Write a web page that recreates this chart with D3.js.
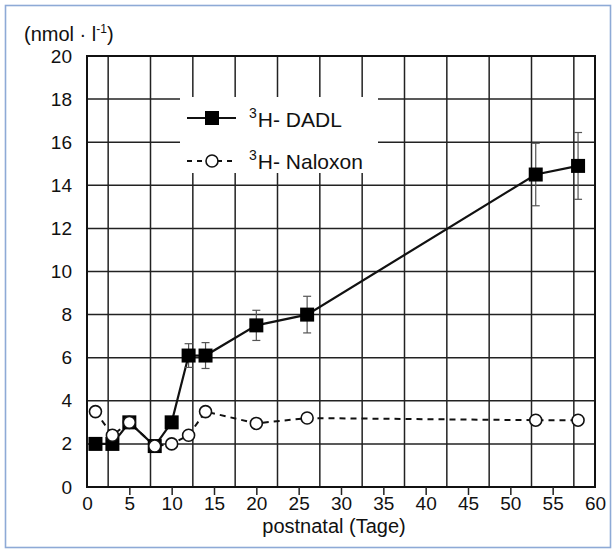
<!DOCTYPE html>
<html>
<head>
    <meta charset="utf-8">
    <title>Opioid binding postnatal</title>
    <script type="text/javascript" src="https://cdn.jsdelivr.net/npm/d3@7/dist/d3.min.js"></script>
    <style>
        body { margin: 0; background: #fff; }
        svg text { font-family: "Liberation Sans", Arial, sans-serif; fill: #111; }
        .grid line { stroke: #222; stroke-width: 1.5; }
    </style>
</head>
<body>
<script type="text/javascript">

    // values
    var dadlDays   = [1, 3, 5, 8, 10, 12, 14, 20, 26, 53, 58];
    var dadlValues = [2, 2, 3, 1.9, 3, 6.1, 6.1, 7.5, 8, 14.5, 14.9];
    var dadlErr    = [0, 0, 0, 0, 0, 0.55, 0.6, 0.7, 0.85, 1.45, 1.55];

    var naloxonDays   = [1, 3, 5, 8, 10, 12, 14, 20, 26, 53, 58];
    var naloxonValues = [3.5, 2.4, 3, 1.9, 2, 2.4, 3.5, 2.95, 3.2, 3.1, 3.1];

    var xTickValues = [0, 5, 10, 15, 20, 25, 30, 35, 40, 45, 50, 55, 60];
    var yTickValues = [0, 2, 4, 6, 8, 10, 12, 14, 16, 18, 20];
    var xGridValues = [2.5, 7.5, 12.5, 17.5, 22.5, 27.5, 32.5, 37.5, 42.5, 47.5, 52.5, 57.5];
    var yGridValues = [2, 4, 6, 8, 10, 12, 14, 16, 18];

    var legendLabels = ["H- DADL", "H- Naloxon"];

    var width = 615, height = 553;

    var x = d3.scaleLinear().domain([0, 60]).range([87, 595]),
        y = d3.scaleLinear().domain([0, 20]).range([487, 56]);

    var svg = d3.select('body').append('svg')
        .attr('width', width)
        .attr('height', height);

    // outer blue frame
    svg.append('rect')
        .attr('x', 5.5).attr('y', 5.5)
        .attr('width', 605).attr('height', 542)
        .attr('fill', 'none')
        .attr('stroke', '#8eaad6')
        .attr('stroke-width', 1.6);

    // grid
    var grid = svg.append('g').attr('class', 'grid');
    grid.selectAll('line.v').data(xGridValues).enter().append('line')
        .attr('class', 'v')
        .attr('x1', d => x(d)).attr('x2', d => x(d))
        .attr('y1', y(20)).attr('y2', y(0));
    grid.selectAll('line.h').data(yGridValues).enter().append('line')
        .attr('class', 'h')
        .attr('x1', x(0)).attr('x2', x(60))
        .attr('y1', d => y(d)).attr('y2', d => y(d));

    // legend box hides the grid behind it
    svg.append('rect')
        .attr('x', 180).attr('y', 97)
        .attr('width', 198).attr('height', 76)
        .attr('fill', '#fff');

    // plot border
    svg.append('rect')
        .attr('x', x(0)).attr('y', y(20))
        .attr('width', x(60) - x(0)).attr('height', y(0) - y(20))
        .attr('fill', 'none')
        .attr('stroke', '#111')
        .attr('stroke-width', 2);

    // axes
    var axisX = d3.axisBottom(x).tickValues(xTickValues).tickSize(8).tickPadding(2).tickFormat(d3.format('d'));
    var gx = svg.append('g')
        .attr('transform', 'translate(0,' + y(0) + ')')
        .call(axisX);
    gx.select('.domain').remove();
    gx.selectAll('.tick line')
        .attr('stroke', '#222').attr('stroke-width', 1.5)
        .attr('display', d => (d === 0 || d === 60) ? 'none' : null);
    gx.selectAll('.tick text').attr('font-size', 19).attr('fill', '#111');

    var axisY = d3.axisLeft(y).tickValues(yTickValues).tickSize(0).tickPadding(15).tickFormat(d3.format('d'));
    var gy = svg.append('g')
        .attr('transform', 'translate(' + x(0) + ',0)')
        .call(axisY);
    gy.select('.domain').remove();
    gy.selectAll('.tick text').attr('font-size', 19).attr('fill', '#111');

    svg.append('text')
        .attr('x', 334).attr('y', 533)
        .attr('text-anchor', 'middle')
        .attr('font-size', 20)
        .text('postnatal (Tage)');

    var unit = svg.append('text')
        .attr('x', 24).attr('y', 41)
        .attr('font-size', 20);
    unit.append('tspan').text('(nmol · l');
    unit.append('tspan').attr('font-size', 12).attr('dy', -8).text('-1');
    unit.append('tspan').attr('dy', 8).text(')');

    // series
    var dadl = dadlDays.map((d, i) => ({x: d, y: dadlValues[i], e: dadlErr[i]}));
    var nalox = naloxonDays.map((d, i) => ({x: d, y: naloxonValues[i]}));

    var line = d3.line().x(d => x(d.x)).y(d => y(d.y));

    svg.append('path')
        .datum(nalox)
        .attr('d', line)
        .attr('fill', 'none')
        .attr('stroke', '#111')
        .attr('stroke-width', 2)
        .attr('stroke-dasharray', '6,5');

    svg.append('path')
        .datum(dadl)
        .attr('d', line)
        .attr('fill', 'none')
        .attr('stroke', '#111')
        .attr('stroke-width', 2.2);

    var bars = svg.selectAll('g.err').data(dadl.filter(d => d.e > 0)).enter()
        .append('g').attr('class', 'err')
        .attr('stroke', '#555').attr('stroke-width', 1.2);
    bars.append('line')
        .attr('x1', d => x(d.x)).attr('x2', d => x(d.x))
        .attr('y1', d => y(d.y + d.e)).attr('y2', d => y(d.y - d.e));
    bars.append('line')
        .attr('x1', d => x(d.x) - 4).attr('x2', d => x(d.x) + 4)
        .attr('y1', d => y(d.y + d.e)).attr('y2', d => y(d.y + d.e));
    bars.append('line')
        .attr('x1', d => x(d.x) - 4).attr('x2', d => x(d.x) + 4)
        .attr('y1', d => y(d.y - d.e)).attr('y2', d => y(d.y - d.e));

    var sq = 14;
    svg.selectAll('rect.dadl').data(dadl).enter().append('rect')
        .attr('class', 'dadl')
        .attr('x', d => x(d.x) - sq / 2).attr('y', d => y(d.y) - sq / 2)
        .attr('width', sq).attr('height', sq)
        .attr('fill', '#000');

    svg.selectAll('circle.nalox').data(nalox).enter().append('circle')
        .attr('class', 'nalox')
        .attr('cx', d => x(d.x)).attr('cy', d => y(d.y))
        .attr('r', 6)
        .attr('fill', '#fff')
        .attr('stroke', '#111')
        .attr('stroke-width', 1.6);

    // legend
    var lg = svg.append('g');
    lg.append('line')
        .attr('x1', 187).attr('x2', 236).attr('y1', 118).attr('y2', 118)
        .attr('stroke', '#111').attr('stroke-width', 2.2);
    lg.append('rect')
        .attr('x', 212 - sq / 2).attr('y', 118 - sq / 2)
        .attr('width', sq).attr('height', sq).attr('fill', '#000');
    lg.append('line')
        .attr('x1', 187).attr('x2', 237).attr('y1', 161).attr('y2', 161)
        .attr('stroke', '#111').attr('stroke-width', 2)
        .attr('stroke-dasharray', '5,5');
    lg.append('circle')
        .attr('cx', 212).attr('cy', 161).attr('r', 6)
        .attr('fill', '#fff').attr('stroke', '#111').attr('stroke-width', 1.6);

    [127, 169].forEach(function(yy, i) {
        var t = lg.append('text').attr('x', 249).attr('y', yy).attr('font-size', 21);
        t.append('tspan').attr('font-size', 14).attr('dy', -9).text('3');
        t.append('tspan').attr('dy', 9).attr('dx', 1).text(legendLabels[i]);
    });

</script>
</body>
</html>
